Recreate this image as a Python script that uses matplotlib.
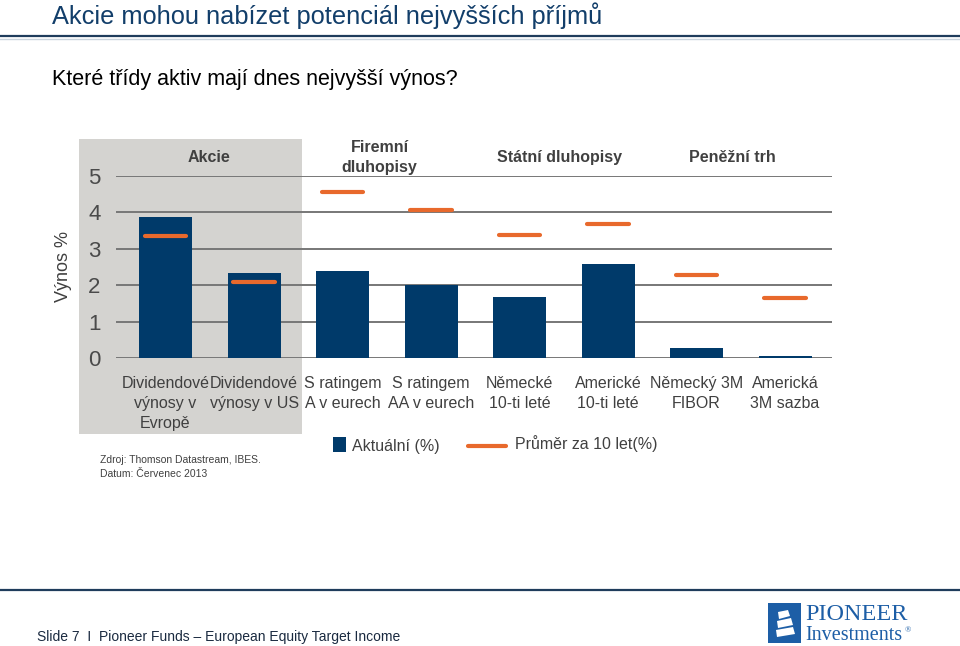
import matplotlib
matplotlib.use("Agg")
import matplotlib.pyplot as plt
from matplotlib.patches import Rectangle, Polygon
from matplotlib.lines import Line2D
import numpy as np

plt.rcParams['font.family'] = ['Liberation Sans', 'DejaVu Sans']

# data
categories = [
    "Dividendové\nvýnosy v\nEvropě",
    "Dividendové\nvýnosy v US",
    "S ratingem\nA v eurech",
    "S ratingem\nAA v eurech",
    "Německé\n10-ti leté",
    "Americké\n10-ti leté",
    "Německý 3M\nFIBOR",
    "Americká\n3M sazba",
]
current = [3.86, 2.33, 2.39, 2.00, 1.69, 2.59, 0.29, 0.07]
avg10 = [3.35, 2.10, 4.56, 4.07, 3.37, 3.68, 2.28, 1.64]
groups = ["Akcie", "Firemní\ndluhopisy", "Státní dluhopisy", "Peněžní trh"]
group_pos = [0.485, 2.42, 4.45, 6.40]
yticks = [0, 1, 2, 3, 4, 5]

NAVY = "#003a6a"
ORANGE = "#e8692c"
TEXT = "#404040"
TITLE_BLUE = "#123e6a"
LOGO_BLUE = "#1d5ea6"

W, H = 960, 646
fig = plt.figure(figsize=(W / 100, H / 100), dpi=100)


def fx(px):
    return px / W


def fy(py):
    return 1 - py / H


# grey band behind the equity group
fig.add_artist(Rectangle((fx(79), fy(434)), fx(302) - fx(79), fy(139) - fy(434),
                         transform=fig.transFigure, facecolor="#d4d3d0",
                         edgecolor="none", zorder=0))

ax = fig.add_axes([fx(116), fy(358.3), fx(832) - fx(116), fy(175.7) - fy(358.3)])
ax.set_facecolor("none")
ax.set_zorder(1)

x = np.arange(len(categories))
ax.bar(x, current, width=0.6, color=NAVY, zorder=3)
ax.hlines(avg10, x - 0.235, x + 0.235, colors=ORANGE, linewidth=3.0,
          capstyle="round", zorder=4)

ax.set_xlim(-0.56, 7.53)
ax.set_ylim(0, 5)
ax.set_yticks(yticks)
ax.yaxis.grid(True, color="#777777", linewidth=1.4, zorder=1)
ax.set_axisbelow(True)
for s in ax.spines.values():
    s.set_visible(False)
ax.tick_params(axis="both", length=0, colors=TEXT)
ax.tick_params(axis="y", labelsize=16, pad=11, labelcolor="#4a4a4a")
ax.set_xticks(x)
ax.set_xticklabels(categories, fontsize=11.5, color=TEXT, linespacing=1.4)
ax.tick_params(axis="x", pad=13)

for g, gx in zip(groups, group_pos):
    ax.text(gx, 5.5, g, ha="center", va="center", fontsize=11.5,
            color=TEXT, fontweight="bold", linespacing=1.45)

fig.text(fx(63), fy(267), "Výnos %", rotation=90, ha="center", va="center",
         fontsize=13, color=TEXT)

# legend
fig.add_artist(Rectangle((fx(333), fy(452)), fx(13), 15 / H,
                         transform=fig.transFigure, facecolor=NAVY, edgecolor="none"))
fig.text(fx(352), fy(446), "Aktuální (%)", ha="left", va="center", fontsize=11.5, color=TEXT)
fig.add_artist(Line2D([fx(468), fx(506)], [fy(446), fy(446)], transform=fig.transFigure,
                      color=ORANGE, linewidth=3.0, solid_capstyle="round"))
fig.text(fx(515), fy(444), "Průměr za 10 let(%)", ha="left", va="center", fontsize=11.5, color=TEXT)

# source
fig.text(fx(100), fy(460), "Zdroj: Thomson Datastream, IBES.", ha="left", va="center",
         fontsize=7.5, color=TEXT)
fig.text(fx(100), fy(474), "Datum: Červenec 2013", ha="left", va="center",
         fontsize=7.5, color=TEXT)

# title and header rule
fig.text(fx(52), fy(16), "Akcie mohou nabízet potenciál nejvyšších příjmů", ha="left",
         va="center", fontsize=18.3, color=TITLE_BLUE)
fig.add_artist(Line2D([0, 1], [fy(36), fy(36)], transform=fig.transFigure,
                      color="#1f3c5c", linewidth=1.6))
fig.add_artist(Line2D([0, 1], [fy(39), fy(39)], transform=fig.transFigure,
                      color="#c9d3dd", linewidth=1.0))
fig.text(fx(52), fy(79), "Které třídy aktiv mají dnes nejvyšší výnos?", ha="left",
         va="center", fontsize=15.5, color="black")

# footer
fig.add_artist(Line2D([0, 1], [fy(590), fy(590)], transform=fig.transFigure,
                      color="#1f3c5c", linewidth=1.6))
fig.text(fx(37), fy(637), "Slide 7  I  Pioneer Funds – European Equity Target Income",
         ha="left", va="center", fontsize=10, color="#1a2a40")

# logo
fig.add_artist(Rectangle((fx(768), fy(643)), fx(33), 40 / H, transform=fig.transFigure,
                         facecolor=LOGO_BLUE, edgecolor="none"))
for sail in [
    [(778, 612), (788, 610), (790, 616), (779, 619)],
    [(777, 621), (791, 618), (793, 625), (778, 628)],
    [(776, 630), (793, 627), (795, 634), (777, 637)],
]:
    fig.add_artist(Polygon([(fx(a), fy(b)) for a, b in sail], closed=True,
                           transform=fig.transFigure, facecolor="white", edgecolor="none"))
fig.text(fx(805), fy(615), "PIONEER", ha="left", va="center", fontsize=17.5,
         family="Liberation Serif", color=LOGO_BLUE)
fig.text(fx(805), fy(635), "Investments", ha="left", va="center", fontsize=14.5,
         family="Liberation Serif", color=LOGO_BLUE)
fig.text(fx(905), fy(630), "®", ha="left", va="center", fontsize=6,
         family="Liberation Serif", color=LOGO_BLUE)

fig.savefig("out.png", dpi=100)
